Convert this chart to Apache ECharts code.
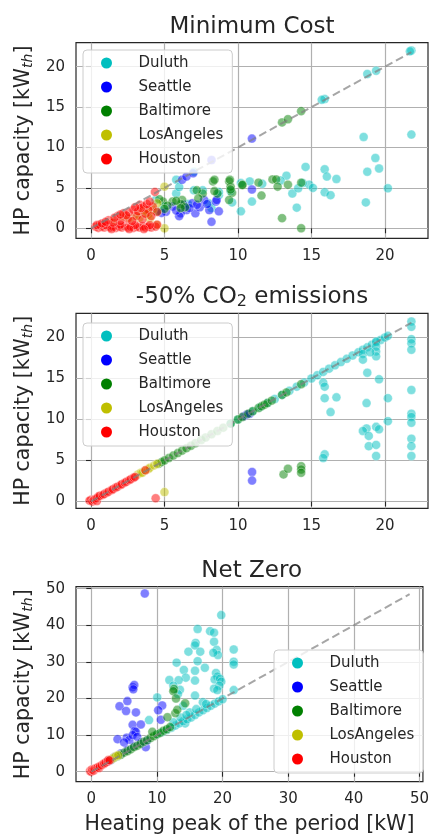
<!DOCTYPE html>
<html><head><meta charset="utf-8">
<script src="https://cdn.jsdelivr.net/npm/echarts@6/dist/echarts.min.js"></script>
<style>html,body{margin:0;padding:0;background:#fff}#c{width:432px;height:836px}</style>
</head><body><div id="c"></div>
<script>
// ---------- data ----------
const cities = ['Duluth','Seattle','Baltimore','LosAngeles','Houston'];
const cityColors = ['#00BFBF','#0000FF','#008000','#BFBF00','#FF0000'];
const ticksA = [0,5,10,15,20];
const ticksB = [0,10,20,30,40,50];
const diagA = [[0,0],[21.8,21.8]];
const diagB = [[0,0],[48.5,48.5]];

// Minimum Cost
const mcDuluth = [[21.8,22.0],[21.7,21.9],[19.4,19.5],[18.8,19.1],[15.9,16.0],[15.7,15.9],[21.8,11.6],[18.55,11.3],[19.35,8.7],[19.6,7.4],[18.8,7.0],[20.2,4.95],[18.7,3.2],[14.6,7.6],[15.9,7.3],[16.05,6.4],[16.7,6.1],[13.3,6.5],[14.85,5.4],[15.1,5.0],[15.9,4.45],[16.3,4.1],[13.7,4.3],[14.0,2.55],[14.1,4.95],[10.95,3.3],[10.2,2.1],[9.6,3.2],[10.8,5.8],[11.65,5.5],[10.2,5.6],[9.5,4.6],[8.7,4.1],[7.0,4.7],[7.6,4.7],[5.8,6.0],[5.8,4.3],[6.6,3.0],[8.0,3.1],[8.2,2.5],[4.4,3.5],[4.95,2.7],[7.0,7.0],[6.0,5.1],[12.9,5.9],[14.4,5.6],[8.7,4.5]];
const mcSeattle = [[10.95,11.1],[10.95,4.8],[6.2,6.0],[6.5,6.4],[6.95,6.8],[8.2,8.45],[6.5,2.25],[6.9,3.1],[7.7,3.5],[8.05,2.25],[8.5,3.3],[8.7,2.1],[8.2,0.8],[6.1,1.85],[6.0,1.5],[7.1,1.85],[5.55,2.7],[5.1,2.05],[7.4,2.6],[6.3,2.9],[5.8,2.2],[7.2,2.9],[8.55,3.5],[7.9,3.0],[4.8,1.9],[6.7,2.5]];
const mcBaltimore = [[14.3,14.5],[13.0,13.1],[13.4,13.5],[13.0,1.25],[14.3,0.0],[12.35,6.05],[12.6,6.05],[12.7,5.15],[13.4,5.4],[14.3,5.65],[11.4,5.65],[10.3,5.4],[11.6,4.05],[9.6,4.4],[8.3,5.8],[9.4,5.8],[9.5,5.15],[10.3,5.35],[9.4,3.5],[7.6,4.3],[7.2,4.7],[8.4,6.0],[9.45,6.0],[8.6,4.3],[5.55,3.3],[4.9,3.3],[6.2,3.5],[6.1,3.0],[6.4,2.6],[5.2,2.8],[4.65,3.6],[4.5,2.1],[5.8,3.4],[7.3,3.7],[5.0,2.4],[6.1,2.5],[9.5,4.8],[8.4,4.6]];
const mcLosAngeles = [[5.0,5.15],[5.0,0.0],[4.0,1.2],[4.5,3.1],[3.9,1.65],[3.1,1.65],[2.65,1.2],[4.47,0.4],[3.8,1.9],[2.2,1.5],[3.3,1.3],[1.5,0.8],[3.6,2.2],[4.2,2.3]];
const mcHouston = [[0.3,0.2],[0.5,0.05],[0.7,0.2],[0.9,0.1],[1.1,0.25],[1.3,0.1],[1.5,0.2],[1.7,0.05],[1.9,0.2],[2.1,0.1],[2.3,0.25],[2.5,0.1],[2.7,0.2],[2.9,0.05],[3.1,0.2],[3.3,0.1],[3.5,0.25],[3.7,0.1],[3.9,0.2],[4.1,0.1],[4.4,0.2],[4.5,0.45],[0.6,0.45],[1.0,0.4],[2.0,0.45],[3.0,0.4],[4.0,0.4],[1.4,-0.1],[2.6,-0.1],[3.6,-0.1],[0.4,0.4],[0.75,0.6],[1.2,1.0],[1.8,1.5],[2.2,1.85],[2.9,2.3],[3.33,2.9],[3.6,2.7],[4.2,2.7],[4.5,2.0],[4.35,4.5],[2.5,1.2],[3.1,1.5],[2.8,0.9],[3.5,1.1],[2.0,0.9],[1.5,0.7],[3.9,2.3],[3.2,2.1],[2.6,2.0],[1.6,1.3],[3.7,1.8],[4.1,1.5],[1.0,0.8],[2.4,1.6],[3.4,2.5],[3.0,2.6],[2.0,1.7],[3.8,3.0],[4.0,3.3]];

// -50% CO2 emissions
const ceDuluth = [[9.5,9.5],[10.0,10.0],[11.0,11.0],[11.5,11.5],[12.0,12.0],[12.5,12.5],[13.0,13.0],[13.5,13.5],[14.0,14.0],[14.5,14.5],[15.0,15.0],[15.4,15.4],[15.8,15.8],[16.2,16.2],[16.6,16.6],[17.0,17.0],[17.4,17.4],[17.8,17.8],[18.2,18.2],[18.5,18.5],[18.8,18.8],[19.1,19.1],[19.4,19.4],[19.7,19.7],[20.0,20.0],[20.2,20.2],[21.8,21.95],[21.8,21.3],[21.8,19.8],[21.8,19.3],[21.8,18.5],[21.8,13.6],[21.8,10.7],[21.8,10.3],[21.8,9.6],[21.8,7.65],[21.8,6.75],[21.8,5.55],[19.4,19.5],[19.4,18.9],[19.4,18.3],[19.4,17.7],[18.5,18.0],[19.0,18.2],[18.5,17.3],[18.8,15.7],[19.6,14.9],[18.75,12.0],[20.2,12.6],[20.2,9.8],[19.4,9.1],[19.6,8.8],[18.75,8.9],[18.5,8.6],[18.9,8.0],[18.9,6.75],[19.4,6.9],[19.4,5.55],[15.8,14.5],[15.9,14.0],[15.9,12.6],[16.7,12.7],[16.3,10.9],[15.9,5.75],[15.8,5.3]];
const ceSeattle = [[10.4,10.4],[10.6,10.6],[10.8,10.7],[10.96,3.6],[10.96,2.55]];
const ceBaltimore = [[4.6,4.6],[4.8,4.8],[5.0,5.0],[5.3,5.3],[5.6,5.6],[5.9,5.9],[6.2,6.2],[6.5,6.5],[6.8,6.8],[7.1,7.1],[7.5,7.5],[7.8,7.8],[8.2,8.2],[8.6,8.6],[9.0,9.0],[9.5,9.5],[10.0,10.0],[10.3,10.3],[10.7,10.7],[11.0,11.0],[11.4,11.4],[11.6,11.6],[11.8,11.8],[12.0,12.0],[12.3,12.3],[13.0,13.0],[13.3,13.3],[14.3,14.3],[13.1,3.3],[13.4,4.0],[14.3,4.3],[14.3,3.9],[14.3,3.5]];
const ceLosAngeles = [[3.2,3.3],[3.4,3.5],[3.5,3.5],[3.7,3.8],[3.9,3.95],[4.0,4.1],[4.3,4.4],[4.5,4.6],[5.0,1.15]];
const ceHouston = [[0.0,0.2],[-0.1,0.1],[0.1,0.0],[0.2,0.2],[0.3,0.3],[0.4,0.05],[0.4,0.4],[0.5,0.6],[0.6,0.7],[0.8,0.8],[0.9,0.9],[1.1,1.1],[1.2,1.2],[1.4,1.4],[1.5,1.5],[1.7,1.7],[1.8,1.8],[2.0,2.0],[2.1,2.1],[2.3,2.3],[2.4,2.4],[2.6,2.6],[2.7,2.7],[2.9,2.9],[3.0,3.0],[3.7,3.8],[4.4,0.4]];

// Net Zero
const nzDuluth = [[19.8,42.8],[16.2,39.0],[18.1,38.4],[18.7,38.0],[15.9,35.2],[15.8,34.5],[18.7,35.5],[16.6,32.8],[14.8,32.8],[19.1,33.3],[19.3,31.9],[18.6,32.5],[21.7,33.4],[21.7,30.05],[21.7,29.3],[16.2,30.2],[13.0,29.8],[17.3,28.4],[15.8,27.6],[14.1,27.8],[14.4,25.7],[19.0,27.0],[19.2,26.0],[18.8,25.2],[19.6,25.4],[11.9,25.05],[13.3,25.0],[15.8,24.9],[19.8,24.6],[19.5,23.5],[18.7,22.7],[19.2,22.3],[21.7,22.3],[13.5,22.4],[13.2,21.2],[15.8,20.8],[10.05,20.3],[8.8,14.1],[14.3,13.2],[12.5,23.5],[17.0,19.0],[14.0,18.0],[10.0,10.2],[10.8,10.8],[11.5,11.4],[12.2,12.0],[12.8,12.6],[13.4,13.2],[14.0,13.8],[14.6,14.3],[15.2,14.8],[15.8,15.5],[16.4,16.2],[17.0,16.8],[17.6,17.4],[18.2,18.0],[18.8,18.6],[19.4,19.2],[20.0,19.8],[13.6,14.8],[15.0,16.2],[16.0,17.1],[14.5,15.5],[17.5,18.5],[12.5,13.5]];
const nzSeattle = [[8.15,48.7],[6.3,23.1],[6.55,23.7],[6.4,22.5],[4.3,17.9],[5.5,19.3],[5.3,16.6],[6.8,16.2],[6.3,12.8],[7.55,12.9],[6.6,11.1],[6.8,10.9],[4.0,8.9],[5.4,9.3],[5.8,8.7],[6.3,10.0],[8.3,6.7],[10.8,18.1],[10.2,16.8],[10.6,14.2],[7.0,9.5],[5.0,8.0],[3.5,4.0],[4.5,5.0],[5.5,6.0],[6.5,7.0],[7.5,8.0],[8.5,8.5],[3.0,3.2],[2.5,2.8]];
const nzBaltimore = [[3.0,3.3],[3.5,3.8],[4.0,4.2],[4.5,4.6],[5.0,5.2],[5.5,5.6],[6.0,6.1],[6.5,6.7],[7.0,7.1],[7.5,7.6],[8.0,8.2],[8.5,8.6],[9.0,9.2],[9.5,9.7],[10.0,10.2],[10.5,10.6],[11.0,11.2],[11.5,11.6],[12.0,12.2],[9.3,10.9],[12.6,22.6],[12.5,22.0],[12.9,20.0],[14.3,18.7],[12.8,16.0],[11.6,14.9],[13.1,16.9]];
const nzLosAngeles = [[3.2,3.5],[3.5,3.9],[3.8,4.3],[4.1,4.5]];
const nzHouston = [[-0.2,0.2],[0.0,0.0],[0.1,0.6],[0.2,0.4],[0.4,0.3],[0.5,0.8],[0.8,1.0],[1.0,1.2],[1.2,1.0],[1.3,1.5],[1.6,1.8],[1.9,2.1],[2.0,2.3],[2.2,2.5],[2.5,2.8],[2.6,3.2],[2.8,3.1]];

const panelData = [
  [mcDuluth, mcSeattle, mcBaltimore, mcLosAngeles, mcHouston],
  [ceDuluth, ceSeattle, ceBaltimore, ceLosAngeles, ceHouston],
  [nzDuluth, nzSeattle, nzBaltimore, nzLosAngeles, nzHouston]
];
const diagonals = [diagA, diagA, diagB];
const panelTicks = [ticksA, ticksA, ticksB];

// ---------- layout / style ----------
const F = 'DejaVu Sans';
const grids = [
  {left:76, top:42.7, width:352, height:195.6},
  {left:76, top:313.3, width:352, height:195},
  {left:76, top:586.7, width:351.3, height:195}
];
const xRanges = [[-1.02,22.93],[-1.02,22.93],[-2.33,50.53]];
const yRanges = [[-1.24,22.97],[-0.83,22.95],[-2.73,50.55]];
const legendPos = [{left:83, top:50},{left:83, top:323},{left:274, top:650}];
const titles = ['Minimum Cost', '-50% CO{s|2} emissions', 'Net Zero'];

const xAxis = [], yAxis = [], series = [], legend = [], graphic = [];
grids.forEach((g, i) => {
  Object.assign(g, {show:true, borderColor:'#262626', borderWidth:1.2, backgroundColor:'rgba(0,0,0,0)'});
  const common = (t) => ({
    type:'value', gridIndex:i,
    axisLine:{show:false},
    axisTick:{show:true, length:5, lineStyle:{color:'#262626', width:1.1}, customValues:t},
    axisLabel:{customValues:t, fontSize:15, fontFamily:F, color:'#262626'},
    splitLine:{show:true, lineStyle:{color:'#b0b0b0', width:1.2}}
  });
  const xa = common(panelTicks[i]);
  xa.min = xRanges[i][0]; xa.max = xRanges[i][1];
  xa.axisLabel.margin = 10;
  if (i === 2) {
    xa.name = 'Heating peak of the period [kW]';
    xa.nameLocation = 'middle';
    xa.nameGap = 32;
    xa.nameTextStyle = {fontSize:20.5, fontFamily:F, color:'#262626'};
  }
  xAxis.push(xa);
  const ya = common(panelTicks[i]);
  ya.min = yRanges[i][0]; ya.max = yRanges[i][1];
  ya.axisLabel.margin = 11;
  ya.name = 'HP capacity [kW{s|th}]';
  ya.nameLocation = 'middle';
  ya.nameGap = 41;
  ya.nameRotate = 90;
  ya.nameTextStyle = {fontSize:20.5, fontFamily:F, color:'#262626',
    rich:{s:{fontSize:14, fontStyle:'italic', fontFamily:F, color:'#262626', padding:[9,0,0,0]}}};
  yAxis.push(ya);

  cities.forEach((c, k) => {
    series.push({
      type:'scatter', name:c, xAxisIndex:i, yAxisIndex:i,
      data: panelData[i][k], symbol:'circle', symbolSize:9,
      itemStyle:{color:cityColors[k], opacity:0.5, borderColor:'#ffffff', borderWidth:0.7},
      emphasis:{disabled:true}, z:2
    });
  });
  series.push({
    type:'line', xAxisIndex:i, yAxisIndex:i, data:diagonals[i],
    showSymbol:false, symbol:'none', silent:true,
    lineStyle:{color:'rgba(128,128,128,0.7)', width:2, type:[8,4]}, z:3
  });

  legend.push(Object.assign({
    orient:'vertical', data:cities.map(n => ({name:n, icon:'circle'})),
    itemWidth:46, itemHeight:11, itemGap:6,
    itemStyle:{opacity:1, borderWidth:0},
    textStyle:{fontSize:15, fontFamily:F, color:'#262626', lineHeight:18, padding:[0,0,0,4]},
    padding:[4,9,5,18],
    backgroundColor:'rgba(255,255,255,0.8)', borderColor:'#cccccc', borderWidth:1, borderRadius:4,
    selectedMode:false, z:10
  }, legendPos[i]));

  graphic.push({
    type:'text', x: g.left + g.width/2, y: g.top - 16,
    style:{text:titles[i], fontSize:23, fontFamily:F, fill:'#262626', align:'center', verticalAlign:'middle',
      rich:{s:{fontSize:16, fontFamily:F, fill:'#262626', padding:[10,0,0,0]}}}
  });
});

const chart = echarts.init(document.getElementById('c'), null, {renderer:'canvas'});
chart.setOption({
  animation:false,
  backgroundColor:'#ffffff',
  grid:grids, xAxis, yAxis, series, legend, graphic
});
</script></body></html>
